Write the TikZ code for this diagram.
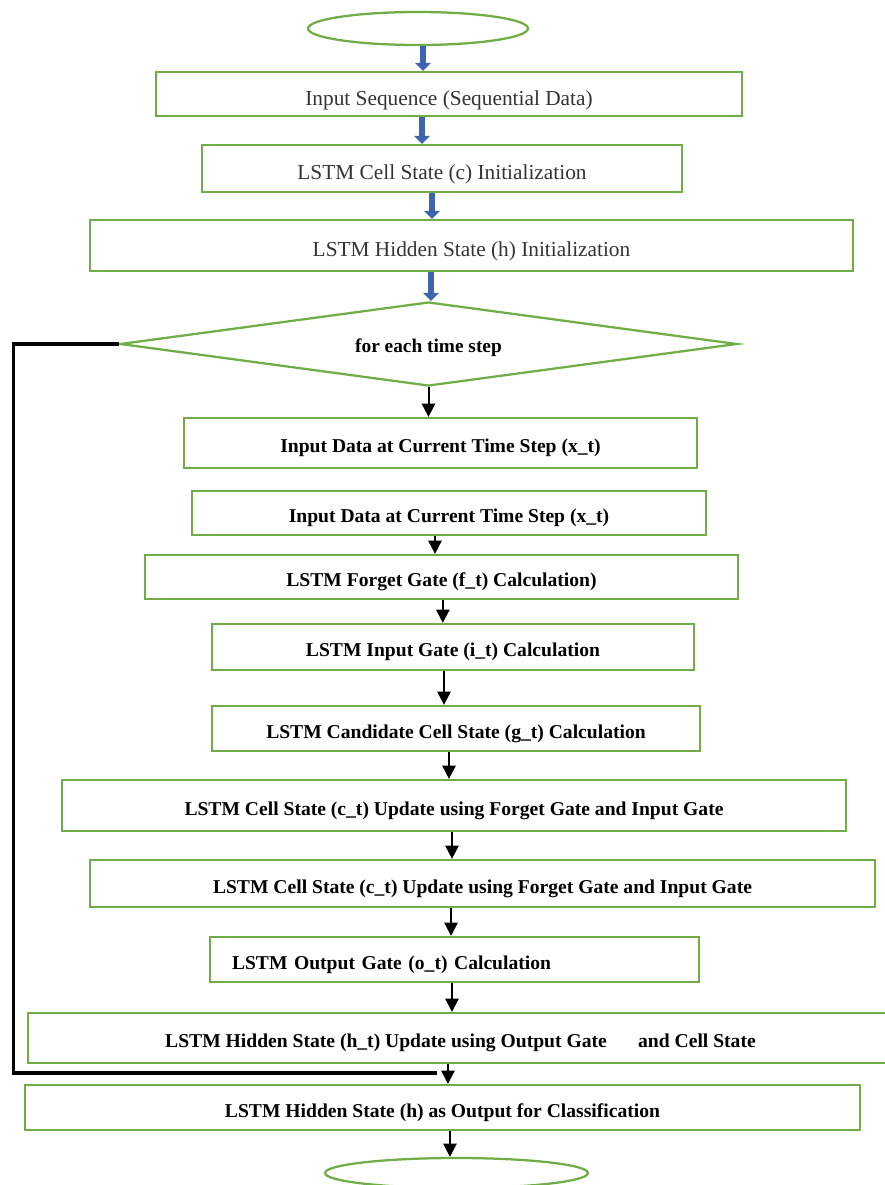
\documentclass[tikz,border=0pt]{standalone}
\usepackage{fontspec}
\setmainfont{Liberation Serif}
\usetikzlibrary{shapes,arrows.meta,positioning,calc}

\definecolor{boxgreen}{RGB}{112,173,71}
\definecolor{flowblue}{RGB}{62,100,175}

\begin{document}
\begin{tikzpicture}[
    x=0.75pt, y=0.75pt,
    box/.style={rectangle, draw=boxgreen, line width=1.7pt, inner sep=0pt, align=center, text height=16pt, text depth=1.5pt, font=\fontsize{14.7}{17}\selectfont\bfseries},
    initbox/.style={box, text height=17.5pt, text depth=1pt, font=\fontsize{16}{19}\selectfont, text=black!80},
    terminal/.style={ellipse, draw=boxgreen, line width=1.7pt, inner sep=0pt},
    decision/.style={diamond, aspect=7.35, draw=boxgreen, line width=1.7pt, inner sep=0pt, text height=14pt, text depth=1pt, font=\fontsize{14.5}{17}\selectfont\bfseries},
    bluearrow/.style={draw=flowblue, line width=5.2pt, -{Triangle[width=11.5pt,length=6pt]}},
    flowarrow/.style={draw=black, line width=1.5pt, -{Triangle[width=10pt,length=10pt]}},
    loopline/.style={draw=black, line width=2.4pt}
]
\useasboundingbox (0,0) rectangle (885,-1185);

\node[terminal, minimum width=165pt, minimum height=24.75pt] (start) at (418,-28.5) {};
\node[initbox, minimum width=439.5pt, minimum height=33pt] (seq) at (449,-94) {Input Sequence (Sequential Data)};
\node[initbox, minimum width=360pt, minimum height=35.25pt] (cinit) at (442,-168.5) {LSTM Cell State (c) Initialization};
\node[initbox, minimum width=572.25pt, minimum height=38.25pt] (hinit) at (471.5,-245.5) {LSTM Hidden State (h) Initialization};
\node[decision, minimum width=462.75pt, minimum height=63pt] (cond) at (428.5,-344) {for each time step};

\node[box, minimum width=384.75pt, minimum height=37.5pt] (xt1) at (440.5,-443) {Input Data at Current Time Step (x\_t)};
\node[box, minimum width=385.5pt, minimum height=33pt] (xt2) at (449,-513) {Input Data at Current Time Step (x\_t)};
\node[box, minimum width=444.75pt, minimum height=33pt] (forget) at (441.5,-577) {LSTM Forget Gate (f\_t) Calculation)};
\node[box, minimum width=361.5pt, minimum height=34.5pt] (inputg) at (453,-647) {LSTM Input Gate (i\_t) Calculation};
\node[box, minimum width=366pt, minimum height=33.75pt] (cand) at (456,-728.5) {LSTM Candidate Cell State (g\_t) Calculation};
\node[box, minimum width=588pt, minimum height=38.25pt] (cup1) at (454,-805.5) {LSTM Cell State (c\_t) Update using Forget Gate and Input Gate};
\node[box, minimum width=588.75pt, minimum height=35.25pt] (cup2) at (482.5,-883.5) {LSTM Cell State (c\_t) Update using Forget Gate and Input Gate};
\node[box, align=left, text width=333.75pt, inner xsep=16.5pt, minimum height=33.75pt] (outg) at (454.5,-959.5) {LSTM Output Gate (o\_t) Calculation};
\node[box, minimum width=648.75pt, minimum height=37.5pt] (hup) at (460.5,-1038) {LSTM Hidden State (h\_t) Update using Output Gate\hspace{1.6em}and Cell State};
\node[box, minimum width=626.25pt, minimum height=33.75pt] (hout) at (442.5,-1107.5) {LSTM Hidden State (h) as Output for Classification};
\node[terminal, minimum width=197.25pt, minimum height=22.5pt] (end) at (456.5,-1173) {};

\coordinate (loopend) at (437,-1073);

\draw[bluearrow] ([xshift=3.75pt]start.south) -- ([xshift=3.75pt]start.south |- seq.north);
\draw[bluearrow] ([xshift=-20.25pt]seq.south) -- ([xshift=-20.25pt]seq.south |- cinit.north);
\draw[bluearrow] ([xshift=-7.5pt]cinit.south) -- ([xshift=-7.5pt]cinit.south |- hinit.north);
\draw[bluearrow] ([xshift=-30.4pt]hinit.south) -- ([xshift=-30.4pt]hinit.south |- cond.north);

\draw[flowarrow] (cond.south) -- (cond.south |- xt1.north);
\draw[flowarrow] ([xshift=-10.5pt]xt2.south) -- ([xshift=-10.5pt]xt2.south |- forget.north);
\draw[flowarrow] ([xshift=1pt]forget.south) -- ([xshift=1pt]forget.south |- inputg.north);
\draw[flowarrow] ([xshift=-6.75pt]inputg.south) -- ([xshift=-6.75pt]inputg.south |- cand.north);
\draw[flowarrow] ([xshift=-5.25pt]cand.south) -- ([xshift=-5.25pt]cand.south |- cup1.north);
\draw[flowarrow] ([xshift=-1.5pt]cup1.south) -- ([xshift=-1.5pt]cup1.south |- cup2.north);
\draw[flowarrow] ([xshift=-23.6pt]cup2.south) -- ([xshift=-23.6pt]cup2.south |- outg.north);
\draw[flowarrow] ([xshift=-1.9pt]outg.south) -- ([xshift=-1.9pt]outg.south |- hup.north);
\draw[flowarrow] ([xshift=-9.4pt]hup.south) -- ([xshift=-9.4pt]hup.south |- hout.north);
\draw[flowarrow] ([xshift=5.6pt]hout.south) -- ([xshift=5.6pt]hout.south |- end.north);

\draw[loopline] (cond.west) -- ++(-105,0) |- (loopend);

\end{tikzpicture}
\end{document}
